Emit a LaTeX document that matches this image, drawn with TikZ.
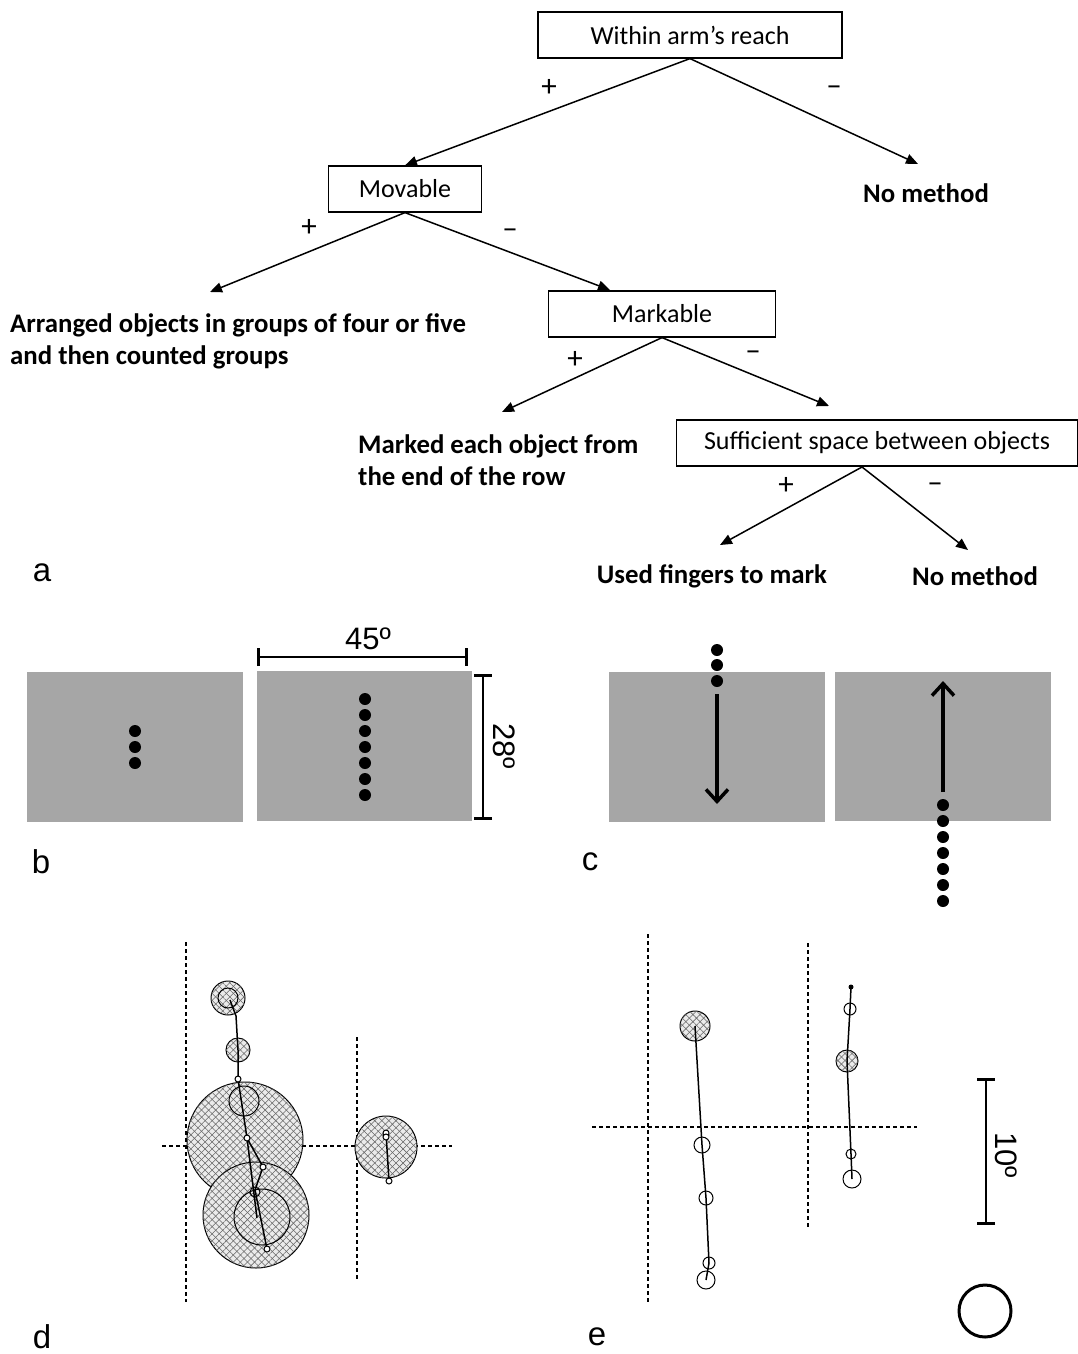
\documentclass[tikz,border=0pt]{standalone}
\usepackage{fontspec}
\setmainfont{Carlito}
\newfontfamily\arialfont{Liberation Sans}
\usetikzlibrary{arrows.meta,patterns.meta,positioning}

\begin{document}
\begin{tikzpicture}[
    x=1pt, y=-1pt,
    >={Triangle[length=12pt,width=10pt]},
    font=\fontsize{26}{32}\selectfont,
    % decision tree
    test/.style={draw, line width=1.2pt, fill=white, minimum height=46pt, inner sep=0pt},
    outcome/.style={font=\fontsize{26.8}{32}\selectfont\bfseries, align=left, inner sep=0pt},
    branch/.style={->, line width=1.5pt},
    sign/.style={font=\fontsize{31}{31}\selectfont, inner sep=0pt},
    % panel letters and scale labels
    letter/.style={font=\arialfont\fontsize{33}{36}\selectfont, inner sep=0pt},
    measure/.style={font=\arialfont\fontsize{31}{34}\selectfont, inner sep=0pt},
    % stimulus panels
    screen/.style={fill=black!35},
    dimbar/.style={{Bar[width=18pt]}-{Bar[width=18pt]}, line width=2.6pt},
    sweep/.style={-{Straight Barb[length=12pt,width=22pt,line width=3.5pt]}, line width=4pt},
    % fixation plots
    guide/.style={dash pattern=on 4pt off 3pt, line width=1.3pt},
    hatched/.style={draw, line width=1pt, fill=black!8,
      postaction={pattern={Lines[angle=45,distance=5pt,line width=0.55pt]}, pattern color=black!60},
      postaction={pattern={Lines[angle=-45,distance=5pt,line width=0.55pt]}, pattern color=black!60}},
    ring/.style={draw, line width=1pt},
    track/.style={line width=1.5pt}
  ]

  \useasboundingbox (0,0) rectangle (1078,1354);

  % ---------------------------------------------------------
  % a: DECISION TREE
  % ---------------------------------------------------------
  \node[test, minimum width=304pt] (reach) at (690,35) {Within arm’s reach};
  \node[test, minimum width=153pt] (movable) at (405,189) {Movable};
  \node[test, minimum width=227pt] (markable) at (662,314) {Markable};
  \node[test, minimum width=401pt] (space) at (877,443) {Sufficient space between objects};

  \node[outcome] (none1) at (926,193) {No method};
  \node[outcome, anchor=north west] (arrange) at (10,313) {Arranged objects in groups of four or five\\and then counted groups};
  \node[outcome, anchor=north west] (mark) at (358,434) {Marked each object from\\the end of the row};
  \node[outcome] (fingers) at (712,576) {Used fingers to mark};
  \node[outcome] (none2) at (975,576) {No method};

  \coordinate (noneTip) at (918,164);
  \coordinate (arrangeTip) at (210,292);
  \coordinate (markableTip) at (610,290);
  \coordinate (markTip) at (502,412);
  \coordinate (spaceTip) at (829,406);
  \coordinate (spaceOut) at (862,467);
  \coordinate (fingersTip) at (720,545);
  \coordinate (none2Tip) at (968,550);

  \draw[branch] (reach.south) -- (movable.north);
  \draw[branch] (reach.south) -- (noneTip);
  \draw[branch] (movable.south) -- (arrangeTip);
  \draw[branch] (movable.south) -- (markableTip);
  \draw[branch] (markable.south) -- (markTip);
  \draw[branch] (markable.south) -- (spaceTip);
  \draw[branch] (spaceOut) -- (fingersTip);
  \draw[branch] (spaceOut) -- (none2Tip);

  \node[sign] (p1) at (549,88) {+};
  \node[sign] (m1) at (834,91) {–};
  \node[sign] (p2) at (309,228) {+};
  \node[sign] (m2) at (510,234) {–};
  \node[sign] (p3) at (575,360) {+};
  \node[sign] (m3) at (753,356) {–};
  \node[sign] (p4) at (786,486) {+};
  \node[sign] (m4) at (935,488) {–};

  \node[letter] (la) at (42,573) {a};

  % ---------------------------------------------------------
  % b: STATIC ROWS
  % ---------------------------------------------------------
  \fill[screen] (27,672) rectangle (243,822);
  \fill[screen] (257,671) rectangle (472,821);
  \foreach \y in {731,747,763} \fill (135,\y) circle (6);
  \foreach \y in {699,715,...,795} \fill (365,\y) circle (6);

  \draw[dimbar] (257,657) -- (468,657);
  \node[measure] (wide) at (368,639) {45º};
  \draw[dimbar] (483,674) -- (483,820);
  \node[measure, rotate=-90] (high) at (504,746) {28º};

  \node[letter] (lb) at (41,862) {b};

  % ---------------------------------------------------------
  % c: MOVING ROWS
  % ---------------------------------------------------------
  \fill[screen] (609,672) rectangle (825,822);
  \fill[screen] (835,672) rectangle (1051,821);
  \foreach \y in {650,665,681} \fill (717,\y) circle (6);
  \draw[sweep] (717,694) -- (717,804);
  \draw[sweep] (943,792) -- (943,681);
  \foreach \y in {805,821,...,901} \fill (943,\y) circle (6);

  \node[letter] (lc) at (590,862) {c};

  % ---------------------------------------------------------
  % d: FIXATIONS, FIRST OBSERVER
  % ---------------------------------------------------------
  \draw[guide] (186,942) -- (186,1302);
  \draw[guide] (357,1037) -- (357,1280);
  \draw[guide] (162,1146) -- (452,1146);

  \draw[hatched] (245,1140) circle (58);
  \draw[hatched] (256,1215) circle (53);
  \draw[hatched] (386,1147) circle (31);
  \draw[hatched] (228,998) circle (17);
  \draw[hatched] (238,1050) circle (12);
  \draw[ring] (228,998) circle (10);
  \draw[ring] (244,1101) circle (15);
  \draw[ring] (262,1217) circle (28);
  \draw[ring] (255,1192) circle (5);

  \draw[track] (230,1000) -- (236,1016) -- (238,1050) -- (238,1079) -- (247,1138)
    -- (263,1167) -- (255,1190) -- (267,1249);
  \draw[track] (247,1138) -- (257,1218);
  \draw[track] (386,1133) -- (389,1181);
  \foreach \p in {(238,1079),(247,1138),(263,1167),(267,1249),(386,1133),(386,1137),(389,1181)}
    \draw[ring, fill=white] \p circle (3);

  \node[letter] (ld) at (42,1337) {d};

  % ---------------------------------------------------------
  % e: FIXATIONS, SECOND OBSERVER
  % ---------------------------------------------------------
  \draw[guide] (648,934) -- (648,1302);
  \draw[guide] (808,943) -- (808,1228);
  \draw[guide] (592,1127) -- (917,1127);

  \draw[hatched] (695,1026) circle (15);
  \draw[hatched] (847,1061) circle (11);
  \draw[track] (695,1026) -- (702,1145) -- (706,1198) -- (709,1263) -- (706,1280);
  \draw[track] (851,987) -- (850,1009) -- (847,1061) -- (851,1154) -- (852,1179);
  \foreach \p/\r in {(702,1145)/8,(706,1198)/7,(709,1263)/6,(706,1280)/9,
                    (850,1009)/6,(851,1154)/5,(852,1179)/9}
    \draw[ring] \p circle (\r);
  \fill (851,987) circle (2.5);

  \draw[dimbar] (986,1078) -- (986,1225);
  \node[measure, rotate=-90] (ten) at (1006,1155) {10º};
  \draw[line width=3pt] (985,1311) circle (26);

  \node[letter] (le) at (597,1337) {e};

\end{tikzpicture}
\end{document}
